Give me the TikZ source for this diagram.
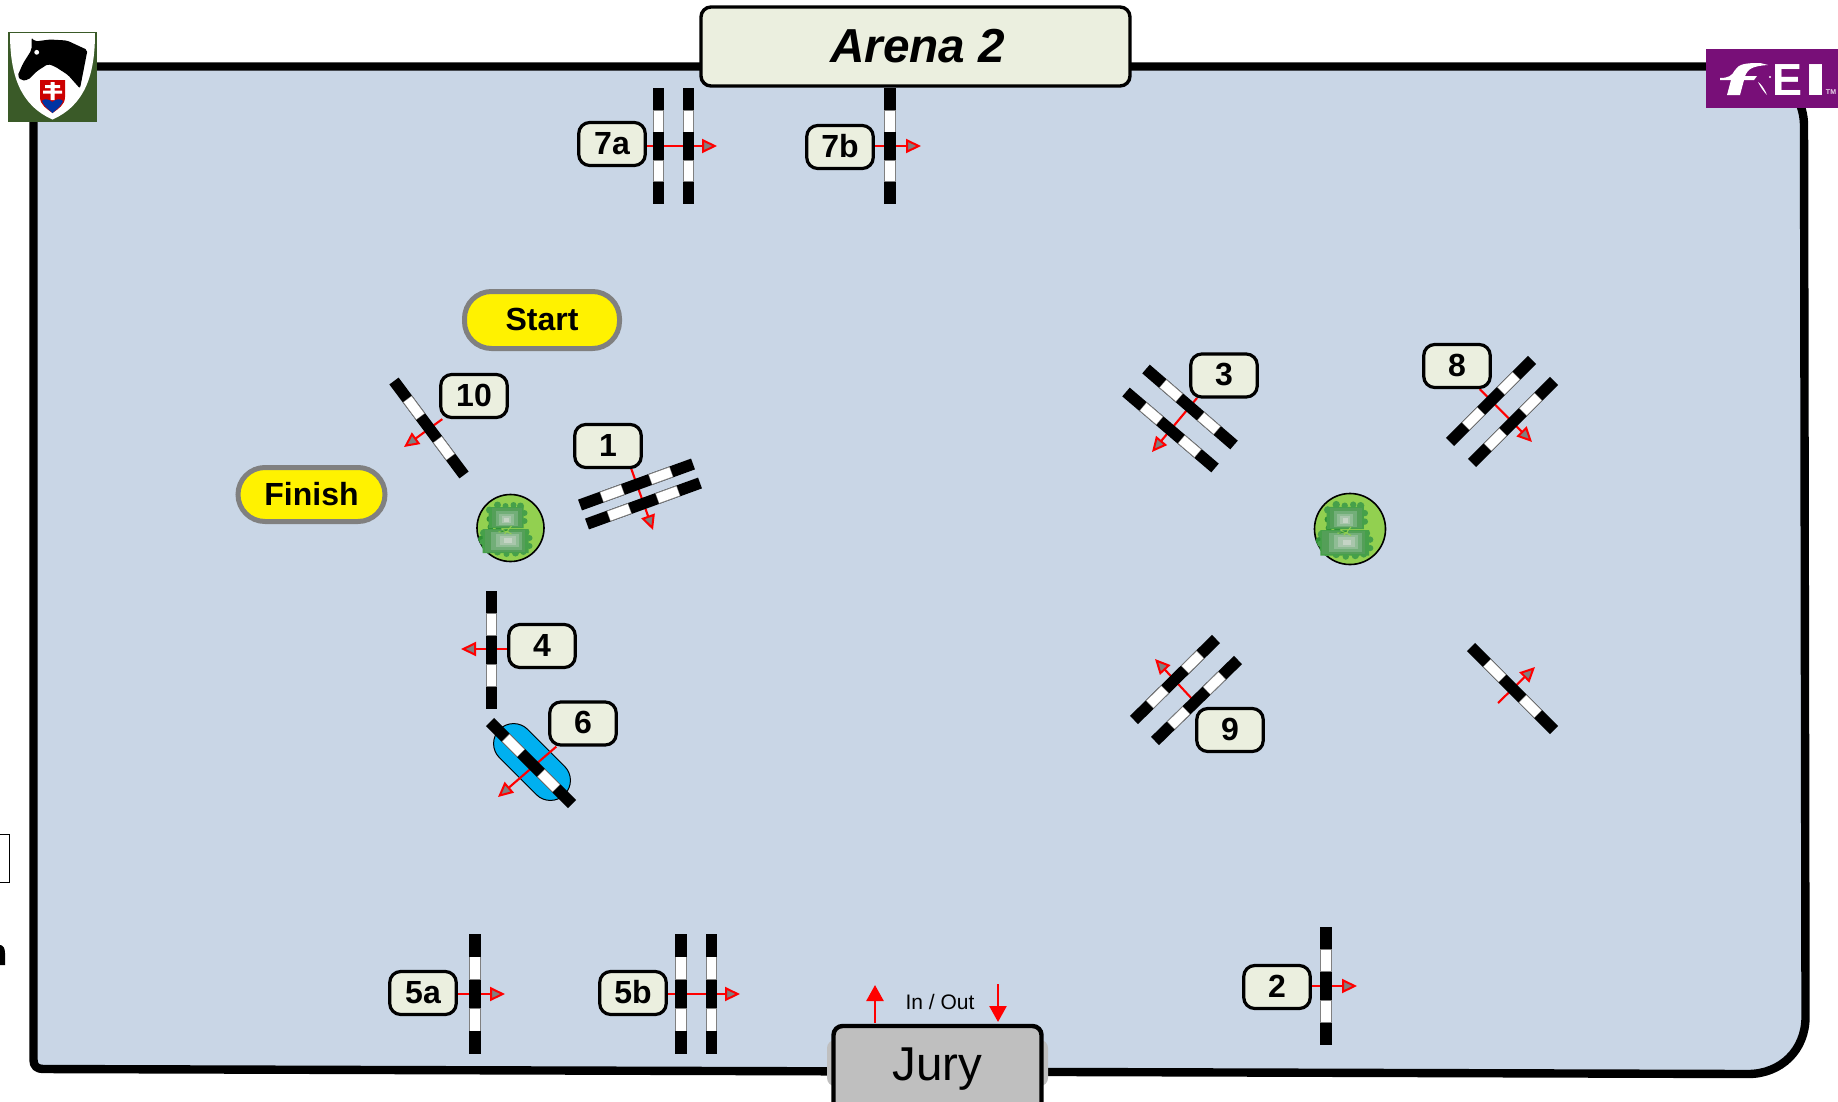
\documentclass[tikz,border=0pt]{standalone}
\usepackage{fontspec}
\setmainfont{Liberation Sans}
\usetikzlibrary{arrows.meta,calc}
\pgfdeclarelayer{arena}
\pgfdeclarelayer{under}
\pgfsetlayers{arena,under,main}
\definecolor{arenafill}{HTML}{C9D6E6}
\definecolor{paper}{HTML}{EBEFDF}
\definecolor{juryfill}{HTML}{BFBFBF}
\definecolor{logogreen}{HTML}{3A5A28}
\definecolor{feipurple}{HTML}{780F78}
\definecolor{waterblue}{HTML}{00B0F0}
\definecolor{treebase}{HTML}{92D050}
\definecolor{bushdark}{HTML}{2F9135}
\definecolor{bushmid}{HTML}{46A04A}
\definecolor{treea}{HTML}{549F58}
\definecolor{treeb}{HTML}{72AE78}
\definecolor{treec}{HTML}{8FBC94}
\definecolor{treed}{HTML}{A9C6AC}
\definecolor{treee}{HTML}{C5D4C5}
\newcommand{\fs}[1]{\fontsize{#1}{#1}\selectfont}
\tikzset{
  x=1pt,y=-1pt,
  numlabel/.style={draw=black,line width=3.2pt,fill=paper,rounded corners=11pt,minimum width=66.5pt,minimum height=43pt,inner sep=0pt,text depth=2pt,font=\fs{32}\bfseries},
  pill/.style={draw=gray,line width=5pt,fill=yellow,rounded corners=27pt,inner sep=0pt,font=\fs{32}\bfseries},
  course/.style={red,line width=2.1pt,-{Triangle[length=15pt,width=14pt,fill=gray,color=red,line width=2pt]}},
  solidarrow/.style={red,line width=2.6pt,-{Triangle[length=16pt,width=17pt,fill=red]}},
}
% pole between two end points: black and white bands
\newcommand{\polebar}[2]{%
  \draw[black,line width=11.5pt] (#1) -- (#2);
  \draw[gray,line width=11.5pt] ($(#1)!.19!(#2)$) -- ($(#1)!.38!(#2)$);
  \draw[white,line width=9.6pt] ($(#1)!.195!(#2)$) -- ($(#1)!.375!(#2)$);
  \draw[gray,line width=11.5pt] ($(#1)!.62!(#2)$) -- ($(#1)!.81!(#2)$);
  \draw[white,line width=9.6pt] ($(#1)!.625!(#2)$) -- ($(#1)!.805!(#2)$);
}
% tree symbol
\newcommand{\treemark}[3]{%
  \begin{scope}[shift={(#1,#2)},scale=#3]
    \draw[fill=treebase,draw=black,line width=1.6pt] (0,0) circle (33.5);
    \fill[bushdark] (-29,11) circle (3.5) (-26,18) circle (3) (-21,-9) circle (3) (-20,-1) circle (3) (-12,1) circle (3);
    \fill[bushmid] (-21,-18) circle (3.5) (-13,-23) circle (3.5) (-5,-22) circle (3) (3,-23) circle (3) (10,-22) circle (3.5) (14,-15) circle (3) (14,-7) circle (3)
      (-27,5) circle (3.5) (-28,14) circle (3) (-22,22) circle (3.5) (-13,24) circle (3.5) (-4,26) circle (3) (5,25) circle (3.5) (13,24) circle (3) (19,18) circle (3) (19,10) circle (3) (16,4) circle (3);
    \fill[bushmid] (-22,-21) rectangle (13,0) (-28,1) rectangle (18,25);
    \fill[treea] (-19,-20) rectangle (11,-1);
    \fill[treeb] (-15,-17) rectangle (7,-2);
    \fill[treec] (-12,-14) rectangle (3,-3);
    \fill[treed] (-9,-12) rectangle (0,-5);
    \fill[treee] (-7,-10) rectangle (-2,-6);
    \fill[treea] (-26,2) rectangle (14,24);
    \fill[treeb] (-20,4) rectangle (11,22);
    \fill[treec] (-15,6) rectangle (8,19);
    \fill[treed] (-11,8) rectangle (5,17);
    \fill[treee] (-7,10) rectangle (1,15);
    \draw[treebase,line width=1pt] (-9,1) -- (1,6) (-6,6) -- (1,-2) (-12,4) -- (-2,3);
    \draw[bushdark,line width=.8pt] (-10,4) -- (-3,2);
  \end{scope}%
}
\begin{document}
\begin{tikzpicture}
\useasboundingbox (0,0) rectangle (1838,1101);

% labels and boxes
\node[numlabel] (l7a) at (612,144) {7a};
\node[numlabel] (l7b) at (840,147) {7b};
\node[numlabel] (l10) at (474,396) {10};
\node[numlabel] (l1) at (608,446) {1};
\node[numlabel] (l4) at (542,646) {4};
\node[numlabel] (l6) at (583,723.5) {6};
\node[numlabel] (l5a) at (423,993) {5a};
\node[numlabel] (l5b) at (633,993) {5b};
\node[numlabel] (l2) at (1277,987) {2};
\node[numlabel] (l3) at (1224,375.5) {3};
\node[numlabel] (l8) at (1457,366) {8};
\node[numlabel] (l9) at (1230,730) {9};
\node[pill,minimum width=155pt,minimum height=57pt,text depth=2pt] (start) at (542,320) {Start};
\node[pill,minimum width=147pt,minimum height=54pt] (finish) at (311.5,494.5) {Finish};
\node[draw=black,line width=3.4pt,fill=paper,rounded corners=10pt,minimum width=429pt,minimum height=79pt,inner sep=0pt,text depth=2pt,font=\fs{47.7}\bfseries\itshape] (title) at (915.5,46.5) {\hspace{4pt}Arena 2};
\node[draw=black,line width=4.4pt,fill=juryfill,rounded corners=9pt,minimum width=208pt,minimum height=90pt,inner sep=0pt,font=\fs{47.5}] (jury) at (937.5,1071) {\raisebox{13pt}{Jury}};
\node[font=\fs{21},inner sep=0pt,anchor=base] (inout) at (940,1009) {In / Out};

% free ends of the connectors
\coordinate (t7a) at (717,146);
\coordinate (t7b) at (921,146);
\coordinate (t10) at (404,447);
\coordinate (t1) at (653,530);
\coordinate (t4) at (461,649);
\coordinate (t6) at (498,797);
\coordinate (t5a) at (505,994);
\coordinate (t5b) at (740,994);
\coordinate (t2) at (1357,986);
\coordinate (s3) at (1197,398);
\coordinate (t3) at (1152,452);
\coordinate (t8) at (1532,442);
\coordinate (t9) at (1155,659);
\coordinate (s9) at (1193,700);
\coordinate (s11) at (1498,703);
\coordinate (t11) at (1535,667);
\coordinate (upa) at (875,1023);
\coordinate (upb) at (875,985);
\coordinate (dna) at (998,984);
\coordinate (dnb) at (998,1022);

\begin{pgfonlayer}{arena}
  \draw[black,line width=8.4pt,fill=arenafill,line join=round] (45,66.5) -- (1745,66.5) .. controls (1778,66.5) and (1804,93) .. (1804,126) -- (1805.5,1017) .. controls (1805.5,1050) and (1781,1074) .. (1748,1074) -- (43,1069) .. controls (37,1069) and (33.5,1066) .. (33.5,1060) -- (33.5,76) .. controls (33.5,70) and (38,66.5) .. (45,66.5) -- cycle;
  % jury halo
  \fill[juryfill,rounded corners=8pt] (827,1040) rectangle (1048,1086);
  % left page fragments
  \draw[black,line width=1pt,fill=white] (-3,834.5) rectangle (9.3,882);
  \fill[black] (0,945) .. controls (3,945) and (5,948) .. (5,953) -- (5,965) -- (0,965) -- cycle;
\end{pgfonlayer}

\begin{pgfonlayer}{under}
  % water
  \begin{scope}[shift={(532,762)},rotate=-45]
    \draw[black,line width=1pt,fill=waterblue,rounded corners=19.9pt] (-46,-20) rectangle (46,20);
  \end{scope}
  % arrows
  \draw[course] (l7a.east |- t7a) -- (t7a);
  \draw[course] (l7b.east |- t7b) -- (t7b);
  \draw[course] (l10) -- (t10);
  \draw[course] (l1) ++(23,22) -- (t1);
  \draw[course] (l4.west |- t4) -- (t4);
  \draw[course] (l6) -- (t6);
  \draw[course] (l5a.east |- t5a) -- (t5a);
  \draw[course] (l5b.east |- t5b) -- (t5b);
  \draw[course] (l2.east |- t2) -- (t2);
  \draw[course] (s3) -- (t3);
  \draw[course] (l8) -- (t8);
  \draw[course] (s9) -- (t9);
  \draw[course] (s11) -- (t11);
  % poles
  \polebar{658.5,88}{658.5,204}
  \polebar{688.5,88}{688.5,204}
  \polebar{890,88}{890,204}
  \polebar{394,381}{464,475}
  \polebar{580,505}{693,464}
  \polebar{587,524}{700,483}
  \polebar{491.5,591}{491.5,709}
  \polebar{490,722}{572,804}
  \polebar{475,934}{475,1054}
  \polebar{681,934}{681,1054}
  \polebar{711.5,934}{711.5,1054}
  \polebar{1326,927}{1326,1045}
  \polebar{1146,369}{1234,445}
  \polebar{1126,392}{1215,468}
  \polebar{1532,360}{1450,442}
  \polebar{1554,381}{1472,463}
  \polebar{1216,639}{1134,720}
  \polebar{1238,660}{1155,741}
  \polebar{1471,647}{1554,730}
  % trees
  \treemark{510.5}{528}{1}
  \treemark{1350}{529}{1.06}
\end{pgfonlayer}

% entrance arrows
\draw[solidarrow] (upa) -- (upb);
\draw[solidarrow] (dna) -- (dnb);

% club logo
\fill[logogreen] (8,32) rectangle (97,122);
\fill[white] (10,33) -- (95,33) .. controls (95,75) and (85,105) .. (52.5,119.5) .. controls (20,105) and (10,75) .. (10,33) -- cycle;
\fill[black,rounded corners=2pt] (31.5,37.5) -- (35,41.5) -- (50,39.5) -- (67,40.5) -- (87.5,50) -- (80,88.5) -- (68,75) -- (55,66.5) -- (48,64) -- (36.5,71.5) -- (28,80) -- (21.5,80.5) -- (17.5,76) -- (23,63.5) -- (31.5,50) -- cycle;
\fill[white] (36.7,52.3) circle (2.4);
\fill[red!80!black] (40,80) -- (65,80) -- (65,97) .. controls (65,105) and (58,109) .. (52.5,113) .. controls (47,109) and (40,105) .. (40,97) -- cycle;
\fill[blue!55!black!80!cyan] (42,101) .. controls (45,98) and (48,99) .. (52.5,102) .. controls (56,99) and (60,98) .. (63,101) .. controls (61,106) and (57,109) .. (52.5,113) .. controls (48,109) and (44,106) .. (42,101) -- cycle;
\fill[white] (50.5,82) rectangle (54.5,100) (45,85) rectangle (60,88) (43,90.5) rectangle (62,93.5);

% FEI logo
\fill[feipurple] (1706,49) rectangle (1838,108);
\fill[white] (1720,78) .. controls (1728,78) and (1732,76) .. (1735,70) .. controls (1739,64) and (1745,63) .. (1760,63) -- (1768,65) .. controls (1752,66) and (1748,69) .. (1745,76) -- (1757,76) -- (1754,80) -- (1744,80) -- (1740,95) -- (1727,95) -- (1731,80) -- (1720,80) -- cycle;
\node[text=white,font=\fs{45}\bfseries,inner sep=0pt,anchor=base] (feie) at (1787,95) {E};
\node[text=white,font=\fs{45}\bfseries,inner sep=0pt,xscale=2,anchor=base] (feii) at (1816,95) {I};
\fill[white] (1758,82) .. controls (1761,88) and (1764,92) .. (1767,95) .. controls (1764,88) and (1761,84) .. (1758,82) -- cycle;
\fill[white] (1770,77) circle (1.2);
\node[text=white!85!feipurple,font=\fs{7}\bfseries,inner sep=0pt] (feitm) at (1831,92) {TM};
\end{tikzpicture}
\end{document}
